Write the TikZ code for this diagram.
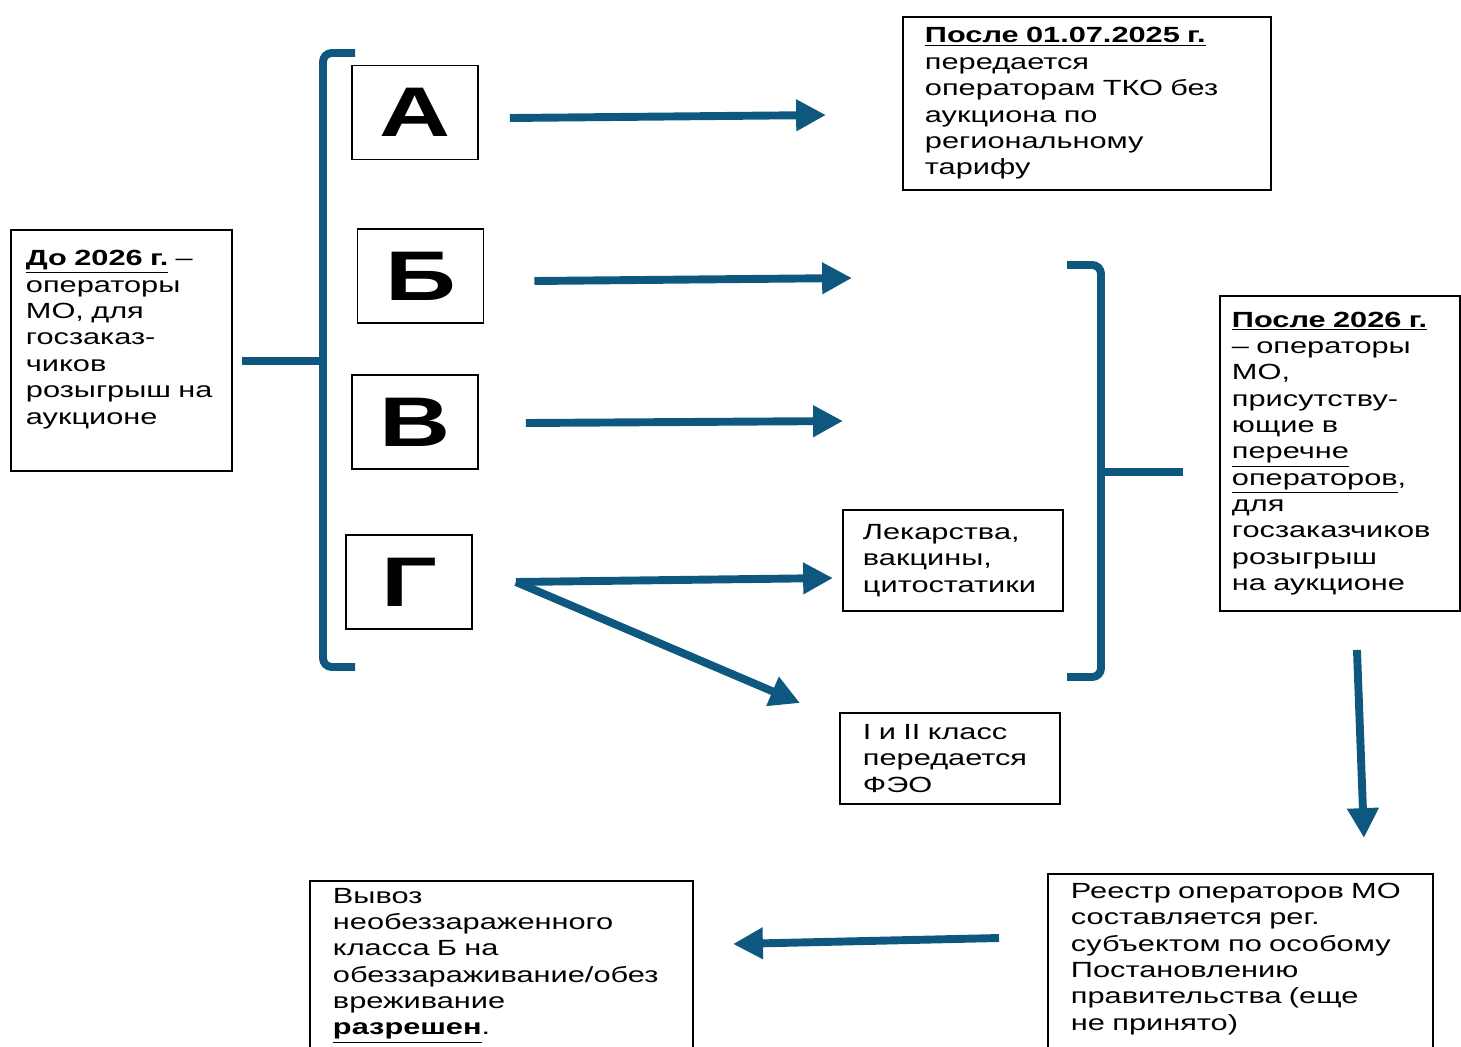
\documentclass[tikz,border=0pt]{standalone}
\usepackage{fontspec}
\setmainfont{Liberation Sans}[FakeStretch=1.4]
\usetikzlibrary{arrows.meta}
\definecolor{flowblue}{RGB}{14,88,128}
\newlength{\pxu}\setlength{\pxu}{0.02cm}
\tikzset{
  box/.style={draw, line width=1.1pt, align=left, anchor=north west,
    inner ysep=9\pxu, font=\fontsize{12.5}{15}\selectfont},
  letterbox/.style={draw, line width=1.1pt, minimum width=126\pxu,
    minimum height=94\pxu, font=\fontsize{40}{40}\selectfont\bfseries},
  flow/.style={flowblue, line width=4.5pt, -{Triangle[length=17pt,width=17pt]}},
  brk/.style={flowblue, line width=4.5pt, rounded corners=5pt},
  stem/.style={flowblue, line width=4.5pt}
}
\begin{document}
\begin{tikzpicture}[x=0.02cm,y=-0.02cm]
\useasboundingbox (0,0) rectangle (1461,1046);
% text boxes
\node[box, text width=191\pxu, minimum height=241\pxu, inner xsep=15\pxu] (before) at (10,229)
  {\underline{\textbf{До 2026 г.}} –\\операторы\\МО, для\\госзаказ-\\чиков\\розыгрыш на\\аукционе\\\mbox{}};
\node[box, text width=324\pxu, minimum height=173\pxu, inner xsep=22\pxu] (tko) at (902,16)
  {\underline{\textbf{После 01.07.2025 г.}}\\передается\\операторам ТКО без\\аукциона по\\региональному\\тарифу};
\node[box, text width=216\pxu, minimum height=315\pxu, inner xsep=12\pxu] (after) at (1219,295)
  {\underline{\textbf{После 2026 г.}}\\– операторы\\МО,\\присутству-\\ющие в\\\underline{перечне}\\\underline{операторов},\\для\\госзаказчиков\\розыгрыш\\на аукционе};
\node[box, text width=180\pxu, minimum height=101\pxu, inner xsep=20\pxu] (drugs) at (842,509)
  {Лекарства,\\вакцины,\\цитостатики};
\node[box, text width=174\pxu, minimum height=91\pxu, inner xsep=23\pxu] (feo) at (839,712)
  {I и II класс\\передается\\ФЭО};
% the two lower boxes run past the bottom edge
\node[box, text width=339\pxu, inner xsep=23\pxu] (reestr) at (1047,873)
  {Реестр операторов МО\\составляется рег.\\субъектом по особому\\Постановлению\\правительства (еще\\не принято)\\\mbox{}};
\node[box, text width=337\pxu, inner xsep=23\pxu, inner ysep=7\pxu] (export) at (309,880)
  {Вывоз\\необеззараженного\\класса Б на\\обеззараживание/обез\\вреживание\\\underline{\textbf{разрешен}}.\\\mbox{}};
% class boxes
\node[letterbox] (A) at (415,112.5) {А};
\node[letterbox] (B) at (420.5,276) {Б};
\node[letterbox] (V) at (415,422) {В};
\node[letterbox] (G) at (409,582) {Г};
% brackets
\draw[brk] (355,53) -- (323,53) -- (323,667) -- (355,667);
\coordinate (lbrk) at (323,361);
\draw[stem, shorten <=9\pxu] (before.east |- lbrk) -- (lbrk);
\draw[brk] (1067,265) -- (1101,265) -- (1101,677) -- (1067,677);
\coordinate (rbrk) at (1101,472);
\draw[stem, shorten >=36\pxu] (rbrk) -- (after.west |- rbrk);
% arrows
\coordinate (tipA) at (826,115);
\coordinate (tipB) at (852,278);
\coordinate (tipV) at (843,421);
\coordinate (tipG) at (833,578);
\coordinate (tipF) at (800,703);
\coordinate (tipR) at (1364,838);
\coordinate (tipE) at (733,944);
\draw[flow] ([shift={(31,5.5)}]A.east) -- (tipA);
\draw[flow] ([shift={(50,5)}]B.east) -- (tipB);
\draw[flow] ([shift={(47,1)}]V.east) -- (tipV);
\draw[flow] ([shift={(43,0)}]G.east) -- (tipG);
\draw[flow] ([shift={(43,0)}]G.east) -- (tipF);
\draw[flow] ([shift={(17,38)}]after.south) -- (tipR);
\draw[flow] ([shift={(-48,65)}]reestr.north west) -- (tipE);
\end{tikzpicture}
\end{document}
